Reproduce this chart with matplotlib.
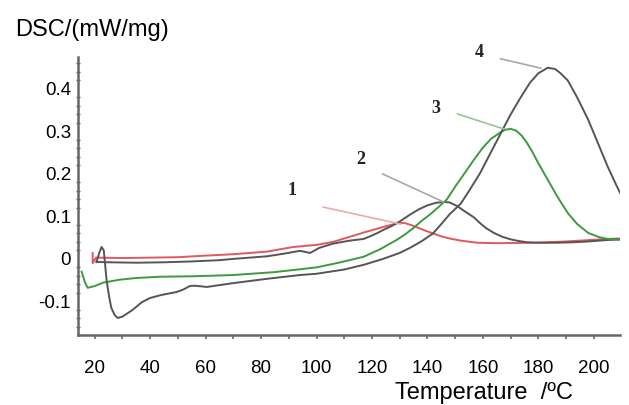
import numpy as np
import matplotlib
matplotlib.use("Agg")
import matplotlib.pyplot as plt
from matplotlib.ticker import MultipleLocator

plt.rcParams['font.family'] = ['Liberation Sans', 'DejaVu Sans']

# DSC traces, temperature in degC vs heat flow in mW/mg
t1 = [19.3, 19.3, 20.5, 30, 40, 50, 58, 70, 82, 91.6, 100, 106, 112, 118, 124, 128,
      130, 132, 134, 136, 139, 142, 145, 148, 152, 158, 165, 178, 190, 200, 205, 209]
y1 = [0.014, -0.010, 0.003, 0.002, 0.003, 0.004, 0.007, 0.011, 0.017, 0.028, 0.033, 0.040, 0.052, 0.064, 0.075, 0.082,
      0.085, 0.084, 0.080, 0.075, 0.067, 0.060, 0.053, 0.048, 0.043, 0.038, 0.037, 0.038, 0.041, 0.045, 0.047, 0.048]

t2 = [20.7, 25, 35, 45, 55, 65, 70, 76, 82, 88, 94, 97.7, 101, 106, 112, 117, 120, 122, 124, 127,
      130, 133.9, 137, 140, 143, 146, 148, 150.8, 153, 156.7, 159, 161, 164, 167, 170, 173, 176,
      180, 186, 192, 198, 204, 209]
y2 = [-0.007, -0.008, -0.009, -0.008, -0.006, -0.003, 0.000, 0.003, 0.006, 0.012, 0.019, 0.014, 0.026, 0.036, 0.043, 0.047, 0.055, 0.061, 0.068, 0.077,
      0.088, 0.105, 0.117, 0.126, 0.132, 0.134, 0.133, 0.124, 0.114, 0.098, 0.084, 0.073, 0.061, 0.052, 0.046, 0.042, 0.039,
      0.038, 0.038, 0.039, 0.041, 0.044, 0.046]

t3 = [15.3, 16.5, 17.5, 20, 23, 29, 35, 43.5, 55, 70, 85, 100, 108, 117, 123, 129, 132, 135, 138,
      141, 144, 147, 150, 153, 156.7, 160, 163, 166.4, 168, 170, 172, 174, 176, 178, 180, 183.4,
      187, 190.6, 194, 198, 202, 205, 209]
y3 = [-0.030, -0.055, -0.068, -0.064, -0.056, -0.049, -0.045, -0.042, -0.041, -0.038, -0.031, -0.020, -0.009, 0.005, 0.023, 0.045, 0.058, 0.073, 0.090,
      0.105, 0.122, 0.140, 0.170, 0.198, 0.233, 0.262, 0.283, 0.298, 0.304, 0.306, 0.302, 0.290, 0.272, 0.250, 0.225, 0.186,
      0.145, 0.108, 0.082, 0.061, 0.051, 0.047, 0.045]

t4 = [20.7, 21.7, 22.5, 23.3, 24.3, 25.2, 26, 27.2, 28.3, 30, 33.7, 37, 40, 44, 49.5, 52, 54.3, 56, 60.5, 70,
      82, 94, 100, 105, 110, 117, 124, 130, 134, 138, 142, 145, 148, 152, 155, 159, 162, 166, 170,
      173.6, 177, 180, 183.4, 186, 188, 190.6, 194, 198, 201, 205, 208, 211]
y4 = [-0.007, 0.015, 0.028, 0.020, -0.050, -0.088, -0.115, -0.132, -0.139, -0.136, -0.120, -0.102, -0.092, -0.085, -0.078, -0.072, -0.064, -0.063, -0.066, -0.057,
      -0.047, -0.038, -0.035, -0.030, -0.025, -0.014, 0.000, 0.014, 0.027, 0.042, 0.060, 0.082, 0.105, 0.130, 0.160, 0.202, 0.240, 0.290, 0.340,
      0.380, 0.415, 0.437, 0.450, 0.447, 0.437, 0.420, 0.380, 0.327, 0.280, 0.217, 0.175, 0.135]

curve_labels = ["1", "2", "3", "4"]
label_xy = [(91.2, 0.162), (115.8, 0.233), (142.9, 0.355), (158.5, 0.485)]
leader_start = [(102.4, 0.122), (123.8, 0.200), (150.9, 0.341), (166.4, 0.471)]
leader_end = [(130.3, 0.082), (145.8, 0.134), (167.5, 0.306), (180.9, 0.449)]

fig = plt.figure(figsize=(6.29, 4.05), dpi=100)
ax = fig.add_axes([0.124, 0.173, 0.862, 0.686])

gray = "#555555"
ax.plot(t1, y1, color="#e0585c", lw=1.4)
ax.plot(t2, y2, color=gray, lw=1.4)
ax.plot(t3, y3, color="#3d9a3d", lw=1.4)
ax.plot(t4, y4, color=gray, lw=1.4)

# numbered callouts with thin leader lines
leader_colors = ["#f0a8a8", "#a8a8a8", "#90c890", "#a8a8a8"]
for lab, (lx, ly), (sx, sy), (ex, ey), c in zip(curve_labels, label_xy, leader_start,
                                                 leader_end, leader_colors):
    ax.text(lx, ly, lab, fontsize=13, fontweight="bold", family="Liberation Serif",
            ha="center", va="center", color="#222222")
    ax.plot([sx, ex], [sy, ey], color=c, lw=1.2, clip_on=False)

ax.set_xlim(14, 209.5)
ax.set_ylim(-0.179, 0.475)
ax.set_xticks([20, 40, 60, 80, 100, 120, 140, 160, 180, 200])
ax.xaxis.set_minor_locator(MultipleLocator(10))
ax.set_yticks([-0.1, 0, 0.1, 0.2, 0.3, 0.4])
ax.set_yticklabels(["-0.1", "0", "0.1", "0.2", "0.3", "0.4"])
ax.yaxis.set_minor_locator(MultipleLocator(0.02))

for s in ["top", "right"]:
    ax.spines[s].set_visible(False)
for s in ["left", "bottom"]:
    ax.spines[s].set_color("#666666")
    ax.spines[s].set_linewidth(1.8)

ax.tick_params(axis="x", which="both", direction="out", length=3, width=1.2,
               color="#666666", labelsize=13.5, pad=15)
ax.tick_params(axis="y", which="both", direction="inout", length=3, width=1.0,
               color="#666666", labelsize=13.5, pad=5)
ax.tick_params(axis="y", which="major", length=0)

fig.text(0.024, 0.926, "DSC/(mW/mg)", fontsize=17, ha="left", va="center")
fig.text(0.628, 0.030, "Temperature  /ºC", fontsize=17, ha="left", va="center")

fig.savefig("out.png", dpi=100)
